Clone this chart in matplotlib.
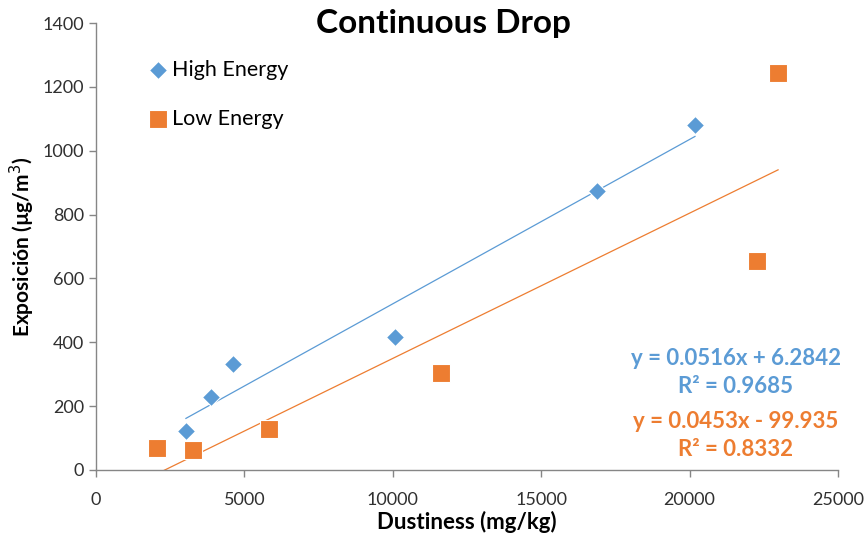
import numpy as np
import matplotlib
matplotlib.use("Agg")
import matplotlib.pyplot as plt

# Data
high_x = [3030, 3875, 4620, 10070, 16880, 20180]
high_y = [122, 229, 332, 417, 874, 1080]
low_x = [2055, 3270, 5830, 11620, 22260, 22980]
low_y = [69, 63, 128, 304, 655, 1243]

high_eq = ["y = 0.0516x + 6.2842", "R² = 0.9685"]
low_eq = ["y = 0.0453x - 99.935", "R² = 0.8332"]

BLUE = "#5b9bd5"
ORANGE = "#ed7d31"
GRAY = "#868686"

plt.rcParams["font.family"] = ["Lato", "DejaVu Sans"]

fig = plt.figure(figsize=(8.67, 5.33), dpi=100)
ax = fig.add_axes([0.1107, 0.1182, 0.8559, 0.8386])

ax.scatter(high_x, high_y, marker="D", s=85, color=BLUE, edgecolors="white",
           linewidths=0.8, label="High Energy", zorder=3)
ax.scatter(low_x, low_y, marker="s", s=160, color=ORANGE, edgecolors="white",
           linewidths=0.8, label="Low Energy", zorder=3)

# linear trendlines over each series' x range
for xs, ys, c in [(high_x, high_y, BLUE), (low_x, low_y, ORANGE)]:
    m, b = np.polyfit(xs, ys, 1)
    xx = np.array([min(xs), max(xs)])
    ax.plot(xx, m * xx + b, color=c, lw=0.9, zorder=2)

ax.set_xlim(0, 25000)
ax.set_ylim(0, 1400)
ax.set_xticks(np.arange(0, 25001, 5000))
ax.set_yticks(np.arange(0, 1401, 200))

for s in ["top", "right"]:
    ax.spines[s].set_visible(False)
for s in ["left", "bottom"]:
    ax.spines[s].set_color(GRAY)
    ax.spines[s].set_linewidth(1)
ax.tick_params(colors=GRAY, labelcolor="#303030", labelsize=13, length=5, width=1)
ax.tick_params(axis="x", pad=11)

ax.set_xlabel("Dustiness (mg/kg)", fontsize=16, fontweight="bold", labelpad=2)
ax.set_ylabel("Exposición (µg/m$^3$)", fontsize=15, fontweight="bold", labelpad=4)
fig.text(0.512, 0.955, "Continuous Drop", ha="center", va="center",
         fontsize=24, fontweight="bold")

ax.legend(loc="center left", bbox_to_anchor=(0.055, 0.84), frameon=False,
          fontsize=15.5, handletextpad=0.05, labelspacing=1.35, borderaxespad=0,
          handlelength=1.2)

ax.text(0.862, 0.219, high_eq[0] + "\n" + high_eq[1], transform=ax.transAxes,
        ha="center", va="center", color=BLUE, fontsize=16, fontweight="bold",
        linespacing=1.4)
ax.text(0.862, 0.078, low_eq[0] + "\n" + low_eq[1], transform=ax.transAxes,
        ha="center", va="center", color=ORANGE, fontsize=16, fontweight="bold",
        linespacing=1.4)

fig.savefig("out.png", dpi=100)
